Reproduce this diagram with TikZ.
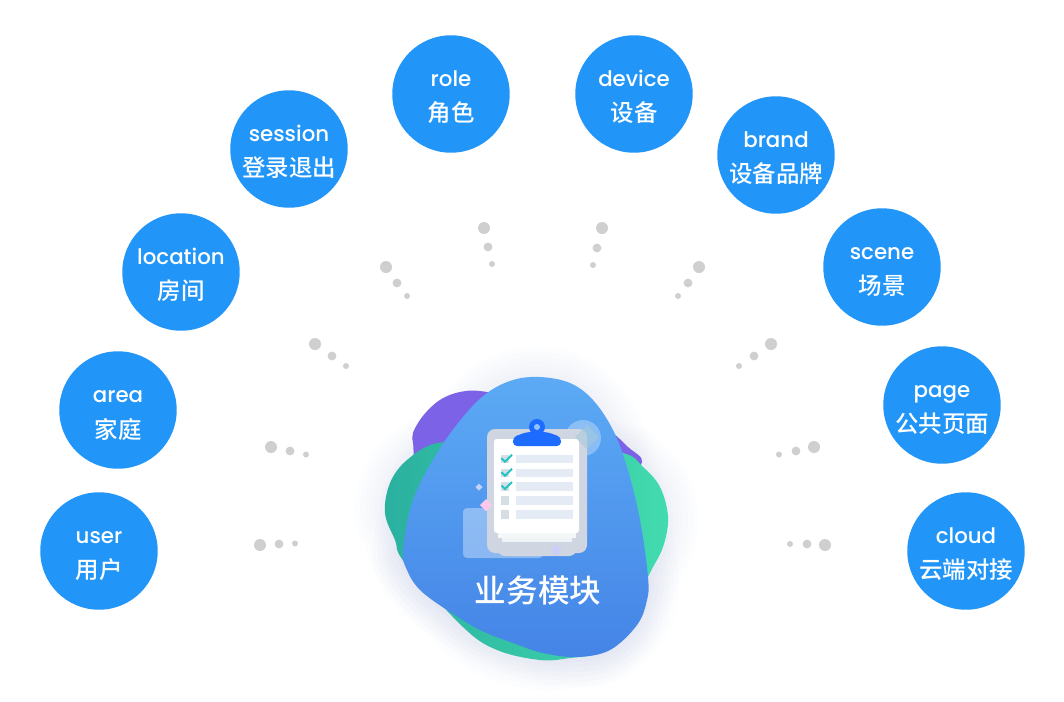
\documentclass[tikz,border=0pt]{standalone}
\usepackage{fontspec}
\setmainfont{Poppins}[UprightFont=* Medium]
\newfontfamily\cjk{Noto Sans CJK SC Medium}
\definecolor{disc}{HTML}{2196F8}
\definecolor{dotgray}{HTML}{CFCFCF}
\definecolor{board}{HTML}{CFD6E1}
\definecolor{sheet}{HTML}{EEF3F5}
\definecolor{rowc}{HTML}{E5EBF4}
\definecolor{boxc}{HTML}{D5DDE5}
\definecolor{tick}{HTML}{1FC4C4}
\definecolor{clipb}{HTML}{1E6BFF}
\definecolor{glow}{HTML}{5066F0}
\definecolor{purp}{HTML}{7B62E6}
\definecolor{greenL}{HTML}{2AB09F}
\definecolor{greenR}{HTML}{42DBAE}
\definecolor{blueT}{HTML}{5CAAF5}
\definecolor{blueB}{HTML}{4484E6}
\tikzset{
  x=0.75pt,y=-0.75pt,
  topic/.style={circle,fill=disc,minimum size=88.1pt,inner sep=0pt},
  toplabel/.style={text=white,font=\fontsize{16}{18}\selectfont,inner sep=0pt,anchor=base},
  cnlabel/.style={text=white,font=\cjk\fontsize{17.6}{18}\selectfont,inner sep=0pt},
  dotbig/.style={circle,fill=dotgray,minimum size=9pt,inner sep=0pt},
  dotmid/.style={circle,fill=dotgray,minimum size=6.6pt,inner sep=0pt},
  dotsmall/.style={circle,fill=dotgray,minimum size=4.5pt,inner sep=0pt},
  row/.style={fill=rowc},
  chk/.style={fill=boxc},
  tickmark/.style={draw=tick,line width=1.5pt},
}
\def\blueblob{plot[smooth cycle,tension=.6] coordinates {(540,377)(570,383)(593,400)(613,430)(627,467)(640,520)(648,577)(647,600)(637,625)(610,650)(577,657)(543,653)(513,643)(480,630)(447,610)(420,590)(407,570)(403,550)(413,500)(437,453)(463,417)(487,393)(513,380)}}
\def\greenblob{plot[smooth cycle,tension=.6] coordinates {(385,513)(390,483)(407,460)(437,443)(480,445)(560,445)(623,453)(643,467)(660,487)(668,517)(663,547)(648,577)(627,627)(600,652)(570,658)(540,660)(497,650)(463,627)(405,563)(395,540)}}
\def\purpleblob{plot[smooth cycle,tension=.6] coordinates {(413,443)(418,423)(437,402)(460,392)(487,392)(540,405)(600,425)(628,447)(642,462)(620,480)(540,500)(430,480)}}
\newcommand{\topicdisc}[5]{%
  \node[topic] (#1) at (#2,#3) {};
  \node[toplabel] (#1-en) at (#2,#3-8) {#4};
  \node[cnlabel] (#1-cn) at (#2,#3+19) {#5};
}
\begin{document}
\begin{tikzpicture}
\useasboundingbox (0,0) rectangle (1064,701);
\fill[white] (0,0) rectangle (1064,701);
% glow
\foreach \w in {60,50,...,10}{
  \draw[glow,line width=\w*0.75pt,opacity=.012,line join=round] \greenblob;
  \draw[glow,line width=\w*0.75pt,opacity=.012,line join=round] \blueblob;
}
% blobs
\fill[purp] \purpleblob;
\path[left color=greenL,right color=greenR] \greenblob;
\path[top color=blueT,bottom color=blueB] \blueblob;
% decorations behind the board
\fill[white,opacity=.35,rounded corners=3pt] (463,508) rectangle (543,558);
\node[fill=white,opacity=.3,circle,minimum size=27pt,inner sep=0pt] (halo) at (583,438) {};
% board
\fill[board,rounded corners=6pt] (487,429) rectangle (587,553);
\fill[board,rounded corners=6pt] (497,540) rectangle (577,556);
\fill[sheet] (502,530) rectangle (572,542);
\fill[sheet!70!white] (498,530) rectangle (576,538);
\fill[white,rounded corners=2pt] (494,439) rectangle (579,533);
% clip
\fill[clipb] (537,427) circle[radius=8];
\fill[clipb,rounded corners=3pt] (513,446) -- (513,437) -- (527,432) -- (547,432) -- (561,437) -- (561,446) -- cycle;
\fill[blueT!70!white] (537,427) circle[radius=3];
% rows
\foreach \yy in {454.7,468.7,482,496,510}{
  \fill[row] (516,\yy) rectangle (573,\yy+8.6);
  \fill[chk] (500.5,\yy) rectangle (509,\yy+8.6);
}
\foreach \yy in {454.7,468.7,482}{
  \draw[tickmark] (501.5,\yy+3.5) -- (505,\yy+7) -- (512,\yy);
}
% sparkles
\fill[green!40!blue!35!white,opacity=.55] (587,425) -- (599,437) -- (587,449) -- (575,437) -- cycle;
\fill[blue!20!white,opacity=.7] (556,544) -- (562,550) -- (556,556) -- (550,550) -- cycle;
\fill[pink!70!magenta!45!white] (486,499) -- (492,505) -- (486,511) -- (480,505) -- cycle;
\fill[blue!15!white,opacity=.85] (479,483.5) -- (482.5,487) -- (479,490.5) -- (475.5,487) -- cycle;
\node[text=white,font=\cjk\fontsize{23.7}{26}\selectfont,inner sep=0pt] (title) at (538,590) {业务模块};
% topics
\topicdisc{user}{99}{551}{user}{用户}
\topicdisc{cloud}{966}{551}{cloud}{云端对接}
\topicdisc{area}{118}{410}{area}{家庭}
\topicdisc{page}{942}{405}{page}{公共页面}
\topicdisc{location}{181}{272}{location}{房间}
\topicdisc{scene}{882}{267}{scene}{场景}
\topicdisc{session}{289}{149}{session}{登录退出}
\topicdisc{brand}{776}{155}{brand}{设备品牌}
\topicdisc{role}{451}{94}{role}{角色}
\topicdisc{device}{634}{94}{device}{设备}
% dots
\foreach \n/\a/\b/\c/\d/\e/\f in {
  a/260/545/279/544/295/543.5,
  b/271/447/290/451/306/454.5,
  c/315/344/332/356/346/366,
  d/386/267/397/283/407/296,
  e/484/228/488/247/492/264,
  f/602/228/597/248/593/265,
  g/699/267/688/283/678/296,
  h/771/344/754/356/739/366,
  i/814/447/796/451/779/454.5,
  j/825/545/807/544/790/544}{
  \node[dotbig] (\n1) at (\a,\b) {};
  \node[dotmid] (\n2) at (\c,\d) {};
  \node[dotsmall] (\n3) at (\e,\f) {};
}
\end{tikzpicture}
\end{document}
